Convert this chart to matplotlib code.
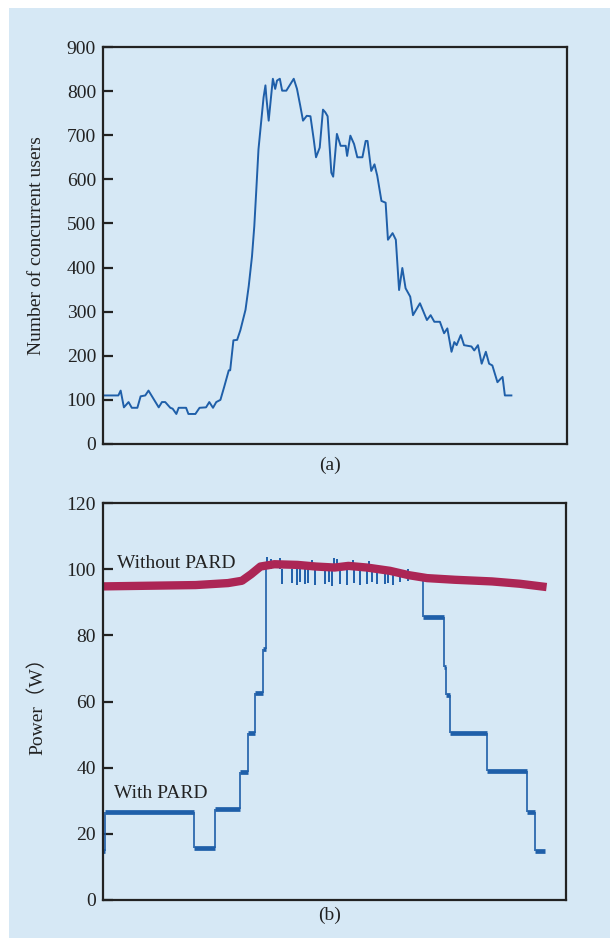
import matplotlib
matplotlib.use("Agg")
import matplotlib.pyplot as plt
from matplotlib.patches import Rectangle

plt.rcParams['font.family'] = ['Liberation Serif', 'Noto Sans CJK SC', 'DejaVu Sans']

# (a) concurrent users over time
users_t = [0, 3.3, 3.8, 4.5, 5.5, 6.2, 7.4, 8.1, 9.1, 9.8, 10.9, 12.0, 12.7, 13.4, 14.5,
           15.0, 15.8, 16.3, 17.9, 18.4, 19.9, 20.8, 22.2, 22.9, 23.7, 24.4, 25.3, 26.1,
           27.1, 27.4, 28.1, 28.9, 29.6, 30.7, 31.4, 32.1, 32.6, 33.0, 33.5, 34.0, 34.6,
           35.0, 35.2, 35.7, 36.2, 36.6, 37.1, 37.5, 38.1, 38.6, 39.5, 41.1, 41.8, 42.5,
           43.1, 43.9, 44.7, 45.4, 45.9, 46.7, 47.4, 47.9, 48.4, 49.2, 49.6, 50.4, 51.2,
           52.3, 52.6, 53.3, 54.1, 54.8, 55.9, 56.6, 57.0, 57.8, 58.5, 59.1, 60.0, 60.9,
           61.4, 62.4, 63.1, 63.8, 64.5, 65.2, 66.2, 66.8, 68.3, 69.8, 70.6, 71.4, 72.6,
           73.5, 74.2, 75.1, 75.7, 76.2, 77.1, 77.8, 79.4, 80.0, 80.8, 81.6, 82.5, 83.2,
           83.9, 85.0, 85.7, 86.1, 86.6, 88.0]
users = [110, 110, 121, 83, 95, 82, 82, 108, 110, 121, 102, 83, 95, 95, 82,
         80, 68, 82, 82, 68, 68, 82, 83, 95, 82, 95, 100, 129,
         167, 167, 235, 236, 258, 304, 358, 425, 494, 570, 668, 722, 786,
         813, 786, 733, 786, 828, 805, 824, 828, 801, 801, 828, 805, 767,
         733, 744, 743, 691, 650, 672, 758, 752, 743, 615, 606, 703, 676,
         676, 653, 699, 680, 650, 650, 687, 687, 619, 634, 608, 551, 547,
         463, 478, 463, 349, 399, 353, 334, 292, 319, 281, 292, 277, 277,
         251, 262, 209, 231, 224, 247, 224, 221, 212, 224, 182, 209, 182,
         178, 140, 148, 152, 110, 110]

# (b) power without PARD
nopard_t = [0, 10, 20, 27, 30, 32, 34, 37, 42, 46, 50, 53, 57, 62, 66, 70, 76, 84, 90, 95.8]
nopard_w = [94.8, 95.0, 95.2, 95.8, 96.5, 98.5, 100.8, 101.5, 101.3, 100.8, 100.5, 101.0,
            100.5, 99.5, 98.2, 97.3, 96.8, 96.3, 95.6, 94.6]

# (b) power with PARD: step levels (low-load parts)
pard_start = [0, 0.5, 19.7, 24.2, 29.5, 31.4, 32.9, 34.6, 69.2, 73.7, 74.1, 75.0, 82.9, 91.6, 93.3]
pard_end = [0.5, 19.7, 24.2, 29.5, 31.4, 32.9, 34.6, 35.2, 73.7, 74.1, 75.0, 82.9, 91.6, 93.3, 95.5]
pard_level = [14.9, 26.7, 15.6, 27.4, 38.8, 50.4, 62.7, 75.8, 85.5, 70.5, 61.9, 50.4, 39.1, 26.7, 14.9]

# with PARD at peak load (runs along the top)
peak_t = [35.2, 37, 42, 46, 50, 53, 57, 62, 66, 69.2]
peak_w = [101.0, 101.5, 101.3, 100.8, 100.5, 101.0, 100.5, 99.5, 98.2, 97.6]

# dips and spikes of the PARD curve during the peak
dip_t = [38.6, 40.8, 41.8, 42.5, 43.6, 44.3, 45.8, 47.9, 48.7, 49.4, 51.2, 52.6, 54.1,
         55.5, 57.0, 58.0, 59.1, 60.9, 61.6, 62.7, 64.1, 65.9]
dip_w = [95.6, 95.8, 95.2, 96.0, 95.4, 95.8, 95.2, 95.5, 96.2, 95.0, 95.6, 95.3, 95.8,
         95.2, 95.6, 96.0, 95.4, 95.5, 95.8, 95.3, 96.2, 96.4]
spike_t = [35.4, 36.3, 38.2, 45.2, 49.9, 50.6, 53.9, 57.4]
spike_w = [103.6, 103.2, 103.4, 102.8, 103.3, 103.0, 102.9, 102.6]

bg = '#d6e8f5'
blue = '#1f5fa9'
red = '#ac2655'
spine_c = '#222222'

fig = plt.figure(figsize=(6.10, 9.42), dpi=100, facecolor='white')
fig.patches.append(Rectangle((9 / 610, 1 - 938 / 942), 1 - 9 / 610, 930 / 942,
                             transform=fig.transFigure, facecolor=bg, edgecolor='none', zorder=-10))

ax1 = fig.add_axes([0.1689, 0.5287, 0.7607, 0.4214])
ax2 = fig.add_axes([0.1689, 0.0446, 0.7590, 0.4214])

for ax in (ax1, ax2):
    ax.set_facecolor(bg)
    for s in ax.spines.values():
        s.set_color(spine_c)
        s.set_linewidth(1.6)
    ax.set_xlim(0, 100)
    ax.set_xticks([])
    ax.tick_params(axis='y', direction='in', length=7, width=1.6, color=spine_c,
                   labelsize=14, pad=5, labelcolor='#222222')

ax1.plot(users_t, users, color=blue, lw=1.4)
ax1.set_ylim(0, 900)
ax1.set_yticks(range(0, 901, 100))
ax1.set_ylabel('Number of concurrent users', fontsize=14, color='#222222')
ax1.yaxis.set_label_coords(-0.126, 0.5)

# with PARD: thick flats, thin risers
ax2.hlines(pard_level, pard_start, pard_end, color=blue, lw=3.4)
for i in range(len(pard_level) - 1):
    if pard_end[i] == pard_start[i + 1]:
        ax2.vlines(pard_end[i], min(pard_level[i], pard_level[i + 1]),
                   max(pard_level[i], pard_level[i + 1]), color=blue, lw=1.2)
ax2.vlines(pard_end[7], pard_level[7], peak_w[0], color=blue, lw=1.2)
ax2.vlines(pard_start[8], pard_level[8], peak_w[-1], color=blue, lw=1.2)
ax2.plot(peak_t, peak_w, color=blue, lw=3.4)
ax2.vlines(dip_t, dip_w, 100, color=blue, lw=1.4)
ax2.vlines(spike_t, 100, spike_w, color=blue, lw=1.4)
ax2.plot(nopard_t, nopard_w, color=red, lw=6, solid_capstyle='butt')

ax2.set_ylim(0, 120)
ax2.set_yticks(range(0, 121, 20))
ax2.set_ylabel('Power（W）', fontsize=14, color='#222222')
ax2.yaxis.set_label_coords(-0.122, 0.5)
ax2.text(3.0, 101.6, 'Without PARD', fontsize=14, color='#222222', va='center')
ax2.text(2.4, 32.3, 'With PARD', fontsize=14, color='#222222', va='center')

fig.text(0.541, 1 - 465 / 942, '(a)', fontsize=14, ha='center', va='center', color='#222222')
fig.text(0.541, 1 - 915 / 942, '(b)', fontsize=14, ha='center', va='center', color='#222222')

fig.savefig('out.png', dpi=100, facecolor='white')
